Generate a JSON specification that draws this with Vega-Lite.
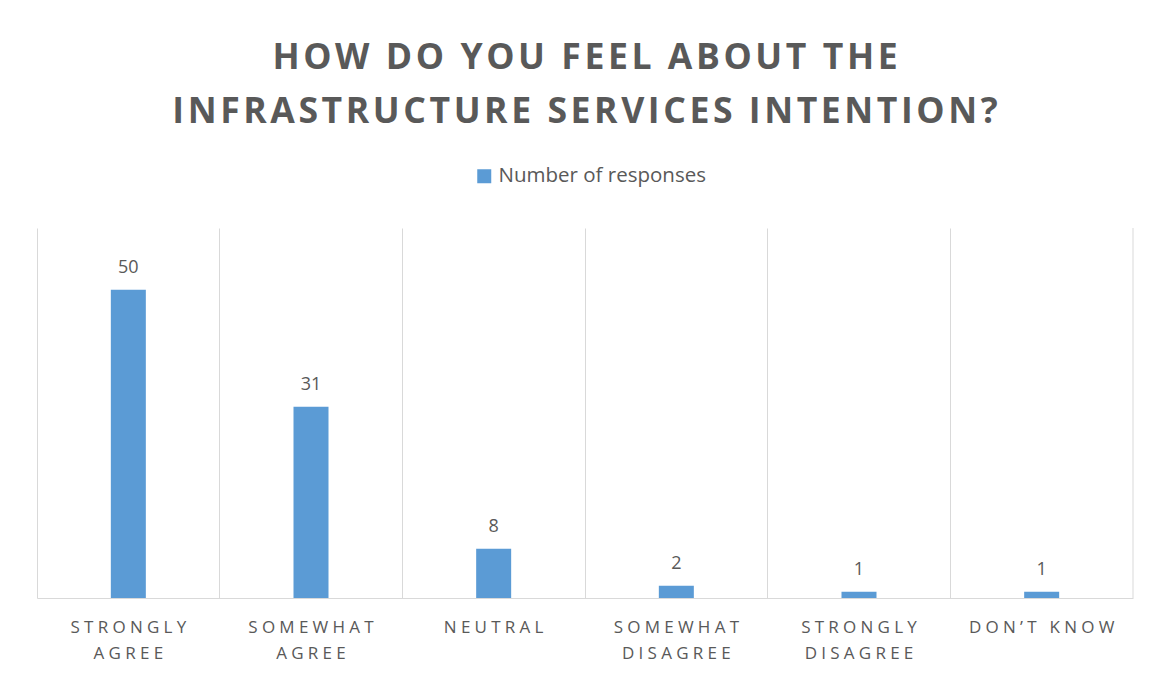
{
  "$schema": "https://vega.github.io/schema/vega-lite/v6.json",
  "width": 1096,
  "height": 370,
  "padding": {"left": 37, "top": 41, "right": 17, "bottom": 10},
  "background": "white",
  "title": {
    "text": {"expr": "[replace('HOW DO YOU FEEL ABOUT THE', /(.)(?=.)/g, '$1\u200a'), replace('INFRASTRUCTURE SERVICES INTENTION?', /(.)(?=.)/g, '$1\u200a')]"},
    "font": "Open Sans",
    "fontSize": 35.6,
    "fontWeight": "bold",
    "color": "#595959",
    "lineHeight": 54,
    "anchor": "middle",
    "offset": 35
  },
  "data": {
    "values": [
      {"answer": "Strongly agree", "responses": 50, "series": "Number of responses"},
      {"answer": "Somewhat agree", "responses": 31, "series": "Number of responses"},
      {"answer": "Neutral", "responses": 8, "series": "Number of responses"},
      {"answer": "Somewhat disagree", "responses": 2, "series": "Number of responses"},
      {"answer": "Strongly disagree", "responses": 1, "series": "Number of responses"},
      {"answer": "Don’t know", "responses": 1, "series": "Number of responses"}
    ]
  },
  "layer": [
    {
      "mark": {"type": "bar", "width": 35},
      "encoding": {
        "x": {
          "field": "answer",
          "type": "nominal",
          "sort": null,
          "scale": {"paddingInner": 0, "paddingOuter": 0},
          "axis": {
            "title": null,
            "labelAngle": 0,
            "labelFont": "Open Sans",
            "labelFontSize": 17,
            "labelColor": "#595959",
            "labelLineHeight": 26,
            "labelPadding": 21,
            "labelLimit": 0,
            "ticks": false,
            "domainColor": "#d9d9d9",
            "grid": true,
            "gridColor": "#d9d9d9",
            "bandPosition": 0,
            "labelExpr": "datum.value === 'Don’t know' ? [replace(upper(datum.value), /(.)(?=.)/g, '$1\u2005')] : [replace(upper(split(datum.value, ' ')[0]), /(.)(?=.)/g, '$1\u2005'), replace(upper(split(datum.value, ' ')[1] || ''), /(.)(?=.)/g, '$1\u2005')]"
          }
        },
        "y": {
          "field": "responses",
          "type": "quantitative",
          "scale": {"domain": [0, 60], "nice": false},
          "axis": null
        },
        "color": {
          "field": "series",
          "type": "nominal",
          "scale": {"range": ["#5b9bd5"]},
          "legend": {
            "title": null,
            "orient": "none",
            "legendX": 437,
            "legendY": -62,
            "symbolType": "square",
            "symbolSize": 196,
            "symbolStrokeWidth": 0,
            "labelFont": "Open Sans",
            "labelFontSize": 20.5,
            "labelColor": "#595959",
            "labelOffset": 4,
            "labelLimit": 0
          }
        }
      }
    },
    {
      "mark": {"type": "text", "dy": -17, "baseline": "alphabetic", "font": "Open Sans", "fontSize": 18, "color": "#595959"},
      "encoding": {
        "x": {"field": "answer", "type": "nominal", "sort": null},
        "y": {"field": "responses", "type": "quantitative"},
        "text": {"field": "responses", "type": "quantitative"}
      }
    },
    {
      "transform": [{"filter": "datum.answer === 'Don’t know'"}],
      "mark": {"type": "rule", "color": "#d9d9d9"},
      "encoding": {
        "x": {"field": "answer", "type": "nominal", "sort": null, "bandPosition": 1},
        "y": {"datum": 0, "type": "quantitative"},
        "y2": {"datum": 60}
      }
    }
  ],
  "config": {"view": {"stroke": null}}
}
